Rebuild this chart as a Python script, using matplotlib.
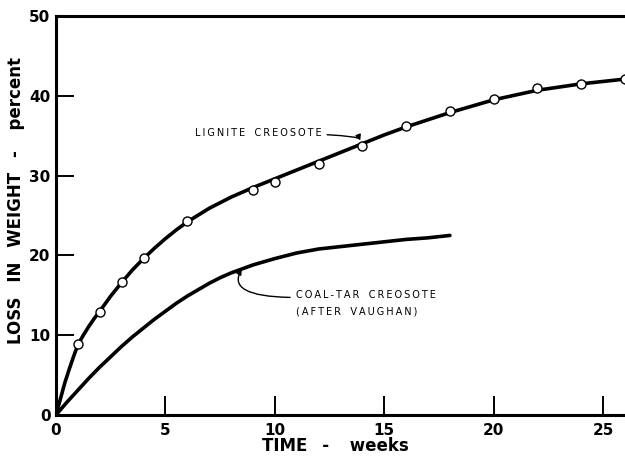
import matplotlib.pyplot as plt

lig_weeks = [1, 2, 3, 4, 6, 9, 10, 12, 14, 16, 18, 20, 22, 24, 26]
lig_loss = [8.9, 12.9, 16.7, 19.7, 24.3, 28.2, 29.2, 31.4, 33.7, 36.2, 38.1, 39.6, 41.0, 41.5, 42.1]

lig_curve_x = [0, 0.2, 0.4, 0.6, 0.8, 1, 1.25, 1.5, 1.75, 2, 2.5, 3, 3.5, 4, 4.5, 5, 5.5, 6, 7, 8, 9, 10,
               11, 12, 13, 14, 15, 16, 17, 18, 19, 20, 21, 22, 23, 24, 25, 26]
lig_curve_y = [0, 2.0, 4.0, 5.7, 7.3, 8.8, 10.0, 11.1, 12.1, 13.0, 14.9, 16.6, 18.2, 19.6, 20.9, 22.1, 23.2,
               24.2, 25.9, 27.3, 28.5, 29.6, 30.7, 31.8, 32.9, 34.0, 35.1, 36.1, 37.0, 37.9, 38.7, 39.5,
               40.1, 40.7, 41.1, 41.5, 41.8, 42.1]

# Coal-tar creosote (after Vaughan), curve only
coal_x = [0, 0.5, 1, 1.5, 2, 2.5, 3, 3.5, 4, 4.5, 5, 5.5, 6, 6.5, 7, 7.5, 8, 8.5, 9, 9.5, 10, 11, 12, 13,
          14, 15, 16, 17, 18]
coal_y = [0, 1.6, 3.1, 4.6, 6.0, 7.3, 8.6, 9.8, 10.9, 12.0, 13.0, 14.0, 14.9, 15.7, 16.5, 17.2, 17.8, 18.3,
          18.8, 19.2, 19.6, 20.3, 20.8, 21.1, 21.4, 21.7, 22.0, 22.2, 22.5]

x_ticks = [0, 5, 10, 15, 20, 25]
y_ticks = [0, 10, 20, 30, 40, 50]

fig = plt.figure(figsize=(6.25, 4.58), dpi=100)
ax = fig.add_axes([0.0896, 0.094, 0.9104, 0.871])

ax.plot(lig_curve_x, lig_curve_y, color='black', lw=2.6, solid_capstyle='round',
        solid_joinstyle='round', zorder=2)
ax.plot(lig_weeks, lig_loss, 'o', ms=6.5, mfc='white', mec='black', mew=1.0, zorder=3, clip_on=False)
ax.plot(coal_x, coal_y, color='black', lw=2.6, solid_capstyle='round', solid_joinstyle='round', zorder=2)

ax.set_xlim(0, 26)
ax.set_ylim(0, 50)
ax.set_xticks(x_ticks)
ax.set_yticks(y_ticks)
ax.tick_params(axis='both', direction='in', width=1.4, labelsize=11)
ax.tick_params(axis='y', length=13, pad=4)
ax.tick_params(axis='x', length=14, pad=6)
for lab in ax.get_xticklabels() + ax.get_yticklabels():
    lab.set_fontweight('bold')

ax.spines['right'].set_visible(False)
for s in ['left', 'bottom', 'top']:
    ax.spines[s].set_linewidth(2.2)


def spaced(s):
    return '\u2009'.join(s)


# annotations with leaders
ax.annotate(spaced('LIGNITE') + '   ' + spaced('CREOSOTE'), xy=(13.9, 34.4), xytext=(6.35, 35.3),
            fontsize=7, va='center', ha='left',
            arrowprops=dict(arrowstyle='-|>', color='black', lw=1.0, mutation_scale=8,
                            connectionstyle='angle3,angleA=0,angleB=-70', shrinkA=2, shrinkB=0))
ax.annotate(spaced('COAL-TAR') + '   ' + spaced('CREOSOTE') + '\n' + spaced('(AFTER') + '   ' + spaced('VAUGHAN)'),
            xy=(8.49, 18.3), xytext=(10.95, 14.0), fontsize=7, va='center', ha='left',
            linespacing=1.8,
            arrowprops=dict(arrowstyle='-|>', color='black', lw=1.0, mutation_scale=8,
                            connectionstyle='angle3,angleA=0,angleB=60', shrinkA=2, shrinkB=0,
                            relpos=(0, 0.72)))

fig.text(0.026, 0.563, 'LOSS\u2009  IN\u2009  WEIGHT\u2009  -\u2009   percent', rotation=90,
         ha='center', va='center', fontsize=12, fontweight='bold')
fig.text(0.536, 0.026, 'TIME\u2009  -\u2009   weeks', ha='center', va='center', fontsize=12, fontweight='bold')

fig.savefig('out.png', dpi=100)
